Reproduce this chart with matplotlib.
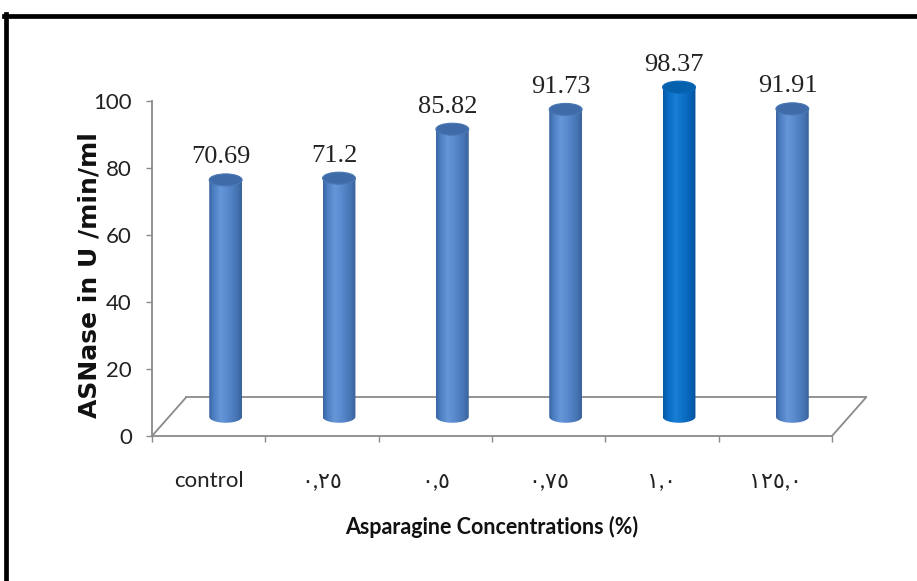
import numpy as np
import matplotlib.pyplot as plt
from matplotlib.patches import Ellipse, PathPatch
from matplotlib.path import Path
from matplotlib.lines import Line2D
from matplotlib.colors import LinearSegmentedColormap

# Data
categories = ['control', '٠,٢٥', '٠,٥', '٠,٧٥', '١,٠', '١٢٥,٠']
activity = [70.69, 71.2, 85.82, 91.73, 98.37, 91.91]
highlight = [False, False, False, False, True, False]
yticks = [0, 20, 40, 60, 80, 100]

sans = ['Lato', 'DejaVu Sans']
grey = '#8a8a8a'

# cylinder shading, left edge -> right edge
blue_cmap = LinearSegmentedColormap.from_list('cyl', [
    (0.0, '#3a64a0'), (0.12, '#4a7cc0'), (0.35, '#6496d8'),
    (0.55, '#5b8bcf'), (0.85, '#4574b4'), (1.0, '#3a6299')])
bright_cmap = LinearSegmentedColormap.from_list('cyl_hi', [
    (0.0, '#0657a5'), (0.15, '#0a6cc4'), (0.4, '#1a7dd6'),
    (0.65, '#0b6ec4'), (0.9, '#075cae'), (1.0, '#05509a')])

fig = plt.figure(figsize=(9.17, 5.81), dpi=100)
ax = fig.add_axes([152 / 917, 145 / 581, 680 / 917, 368.5 / 581])

depth_x, depth_y = 0.3, 11.5   # floor depth in data units
half_w, half_h = 0.145, 1.8    # cylinder radius / ellipse half height

# floor of the 3D plot
floor = dict(color=grey, lw=1.3, zorder=1, clip_on=False)
ax.add_line(Line2D([-0.5 + depth_x, 5.5 + depth_x], [depth_y, depth_y], **floor))
ax.add_line(Line2D([-0.5, -0.5 + depth_x], [0, depth_y], **floor))
ax.add_line(Line2D([5.5, 5.5 + depth_x], [0, depth_y], **floor))

grad = np.linspace(0, 1, 256)[None, :]
for i, (val, hi) in enumerate(zip(activity, highlight)):
    cx = i + depth_x / 2
    base = depth_y / 2
    top = val + base
    # body + rounded bottom
    t = np.linspace(np.pi, 2 * np.pi, 40)
    verts = [(cx - half_w, top), (cx - half_w, base)]
    verts += list(zip(cx + half_w * np.cos(t), base + half_h * np.sin(t)))
    verts += [(cx + half_w, top), (cx - half_w, top)]
    body = PathPatch(Path(verts, closed=True), fc='none', ec='none',
                     transform=ax.transData)
    ax.add_patch(body)
    im = ax.imshow(grad, cmap=bright_cmap if hi else blue_cmap, aspect='auto',
                   interpolation='bilinear', zorder=3,
                   extent=[cx - half_w, cx + half_w, base - half_h, top])
    im.set_clip_path(body)
    ax.add_patch(Ellipse((cx, top), 2 * half_w, 2 * half_h, zorder=4,
                         fc='#0560ad' if hi else '#3f6ca8',
                         ec='#0a68b8' if hi else '#4a78b4', lw=0.8))
    ax.annotate(f'{val:g}', xy=(cx, top), xytext=(-3.5, 12),
                textcoords='offset points', ha='center', va='baseline',
                fontsize=19, family='Liberation Serif', color='#222222')

ax.set_xlim(-0.5, 5.5)
ax.set_ylim(0, 110)

for s in ['top', 'right']:
    ax.spines[s].set_visible(False)
for s in ['left', 'bottom']:
    ax.spines[s].set_color(grey)
    ax.spines[s].set_linewidth(1.3)
ax.spines['left'].set_bounds(0, 100)

ax.set_yticks(yticks)
ax.tick_params(axis='y', direction='out', length=4.5, width=1, color=grey,
               pad=10, labelsize=16, labelcolor='#222222')
ax.set_xticks(range(len(categories)))
ax.set_xticklabels(categories)
ax.set_xticks(np.arange(-0.5, 6, 1), minor=True)
ax.tick_params(axis='x', which='major', length=0, pad=25, labelsize=16,
               labelcolor='#222222')
ax.tick_params(axis='x', which='minor', direction='out', length=4.5,
               width=1, color=grey)
for lab in ax.get_xticklabels() + ax.get_yticklabels():
    lab.set_family(sans)

fig.text(90 / 917, 1 - 275 / 581, 'ASNase in U /min/ml', rotation=90,
         ha='center', va='center', fontsize=18, fontweight='bold',
         family='DejaVu Sans', color='#111111')
fig.text(492 / 917, 1 - 527 / 581, 'Asparagine Concentrations (%)',
         ha='center', va='center', fontsize=15.5, fontweight='bold',
         family=sans, color='#111111')

# frame around the chart
fig.add_artist(Line2D([4 / 917, 1], [1 - 15.5 / 581] * 2, color='black', lw=3.4,
                      transform=fig.transFigure))
fig.add_artist(Line2D([6 / 917] * 2, [0, 1 - 13.5 / 581], color='black', lw=3.4,
                      transform=fig.transFigure))

fig.savefig('out.png', dpi=100)
